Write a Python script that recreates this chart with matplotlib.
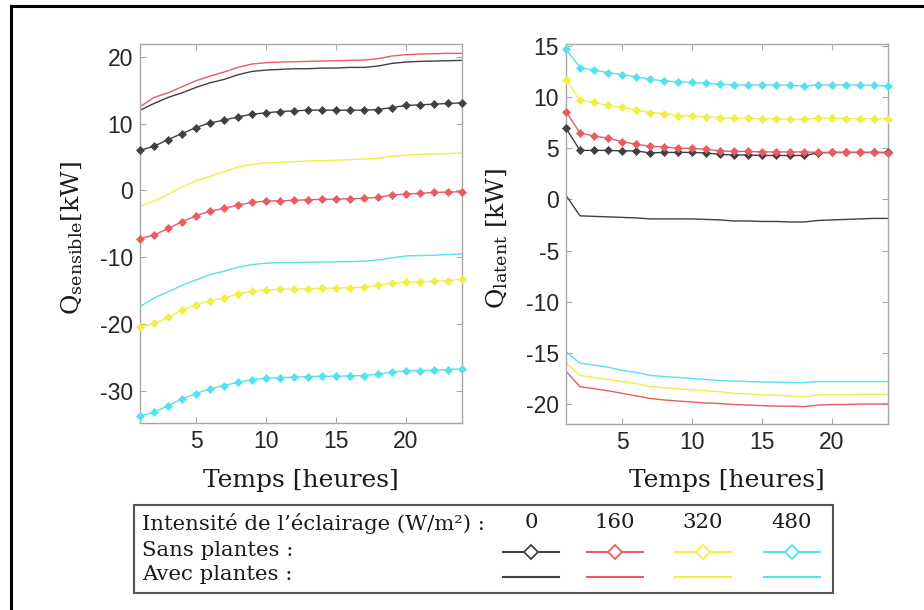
import matplotlib
matplotlib.use("Agg")
import matplotlib.pyplot as plt
from matplotlib.lines import Line2D
from matplotlib.patches import Rectangle

# ---------------- data ----------------
hours = list(range(1, 25))

# Q sensible [kW]
sens_sans_0 = [6.0, 6.6, 7.6, 8.5, 9.4, 10.1, 10.5, 11.0, 11.4, 11.6, 11.8, 11.9, 12.0, 12.0, 12.0, 12.0, 12.0, 12.1, 12.4, 12.7, 12.8, 12.9, 13.0, 13.1]
sens_avec_0 = [12.0, 13.0, 13.9, 14.6, 15.4, 16.1, 16.6, 17.3, 17.8, 18.0, 18.1, 18.2, 18.2, 18.3, 18.3, 18.4, 18.4, 18.6, 19.0, 19.2, 19.3, 19.35, 19.4, 19.45]
sens_sans_160 = [-7.2, -6.7, -5.7, -4.7, -3.8, -3.1, -2.7, -2.2, -1.8, -1.6, -1.55, -1.5, -1.4, -1.35, -1.3, -1.25, -1.2, -1.05, -0.7, -0.55, -0.45, -0.3, -0.25, -0.2]
sens_avec_160 = [12.5, 13.9, 14.6, 15.5, 16.4, 17.1, 17.7, 18.4, 18.9, 19.1, 19.2, 19.25, 19.3, 19.35, 19.4, 19.45, 19.5, 19.7, 20.1, 20.3, 20.4, 20.45, 20.5, 20.5]
sens_sans_320 = [-20.5, -19.9, -19.0, -17.9, -17.1, -16.5, -16.1, -15.5, -15.1, -14.9, -14.8, -14.75, -14.7, -14.65, -14.6, -14.55, -14.5, -14.2, -13.9, -13.7, -13.65, -13.6, -13.5, -13.3]
sens_avec_320 = [-2.4, -1.6, -0.6, 0.55, 1.4, 2.1, 2.8, 3.5, 3.9, 4.1, 4.2, 4.3, 4.4, 4.45, 4.5, 4.6, 4.7, 4.8, 5.1, 5.3, 5.4, 5.45, 5.5, 5.6]
sens_sans_480 = [-33.7, -33.2, -32.2, -31.2, -30.4, -29.7, -29.2, -28.7, -28.3, -28.1, -28.0, -27.95, -27.85, -27.8, -27.8, -27.75, -27.7, -27.5, -27.2, -27.0, -26.95, -26.9, -26.8, -26.7]
sens_avec_480 = [-17.4, -16.1, -15.2, -14.2, -13.4, -12.6, -12.1, -11.5, -11.1, -10.9, -10.8, -10.8, -10.75, -10.7, -10.7, -10.65, -10.6, -10.4, -10.1, -9.8, -9.75, -9.7, -9.6, -9.5]

# Q latent [kW]
lat_sans_0 = [6.95, 4.8, 4.8, 4.8, 4.75, 4.75, 4.55, 4.6, 4.6, 4.6, 4.55, 4.4, 4.35, 4.35, 4.3, 4.3, 4.3, 4.3, 4.55, 4.6, 4.6, 4.6, 4.6, 4.6]
lat_avec_0 = [0.4, -1.6, -1.65, -1.7, -1.75, -1.8, -1.9, -1.9, -1.9, -1.9, -1.95, -2.0, -2.1, -2.1, -2.15, -2.15, -2.2, -2.2, -2.05, -2.0, -1.95, -1.9, -1.85, -1.85]
lat_sans_160 = [8.6, 6.5, 6.2, 6.0, 5.65, 5.4, 5.2, 5.15, 5.0, 5.0, 4.9, 4.75, 4.7, 4.7, 4.65, 4.65, 4.65, 4.65, 4.6, 4.6, 4.6, 4.6, 4.6, 4.55]
lat_avec_160 = [-16.8, -18.3, -18.5, -18.7, -18.95, -19.2, -19.45, -19.6, -19.7, -19.8, -19.9, -19.95, -20.05, -20.1, -20.15, -20.2, -20.2, -20.25, -20.1, -20.05, -20.05, -20.0, -20.0, -20.0]
lat_sans_320 = [11.7, 9.7, 9.5, 9.2, 9.0, 8.75, 8.5, 8.4, 8.2, 8.15, 8.1, 8.0, 7.95, 7.95, 7.9, 7.9, 7.85, 7.85, 7.95, 7.95, 7.9, 7.9, 7.9, 7.9]
lat_avec_320 = [-16.0, -17.2, -17.4, -17.6, -17.8, -18.0, -18.3, -18.4, -18.5, -18.6, -18.7, -18.8, -18.95, -19.0, -19.1, -19.15, -19.2, -19.3, -19.1, -19.1, -19.1, -19.05, -19.05, -19.05]
lat_sans_480 = [14.7, 12.9, 12.65, 12.4, 12.2, 12.0, 11.75, 11.6, 11.5, 11.45, 11.35, 11.3, 11.2, 11.2, 11.2, 11.2, 11.15, 11.1, 11.2, 11.2, 11.2, 11.2, 11.15, 11.1]
lat_avec_480 = [-14.9, -16.0, -16.2, -16.4, -16.7, -16.9, -17.2, -17.3, -17.4, -17.5, -17.6, -17.7, -17.75, -17.8, -17.85, -17.85, -17.9, -17.9, -17.8, -17.8, -17.8, -17.8, -17.8, -17.8]

intensities = ["0", "160", "320", "480"]
colors = ["#404040", "#e85c62", "#f2ee48", "#55e2ec"]

sens_sans = [sens_sans_0, sens_sans_160, sens_sans_320, sens_sans_480]
sens_avec = [sens_avec_0, sens_avec_160, sens_avec_320, sens_avec_480]
lat_sans = [lat_sans_0, lat_sans_160, lat_sans_320, lat_sans_480]
lat_avec = [lat_avec_0, lat_avec_160, lat_avec_320, lat_avec_480]

# ---------------- figure ----------------
W, H = 924, 610
plt.rcParams["axes.unicode_minus"] = False
plt.rcParams["mathtext.fontset"] = "custom"
plt.rcParams["mathtext.rm"] = "DejaVu Serif"
plt.rcParams["mathtext.it"] = "DejaVu Serif:italic"

fig = plt.figure(figsize=(W / 100, H / 100), dpi=100)
fig.patch.set_facecolor("white")

SERIF = "DejaVu Serif"
SANS = "Liberation Sans"
TXT = "#1a1a1a"


def fx(px):
    return px / W


def fy(py):
    return 1 - py / H


def make_axes(x0, x1, y0, y1):
    ax = fig.add_axes([fx(x0), fy(y1), fx(x1) - fx(x0), fy(y0) - fy(y1)])
    for s in ax.spines.values():
        s.set_color("#a8a8a8")
        s.set_linewidth(1.0)
    ax.tick_params(direction="in", length=4, width=0.8, color="#a8a8a8",
                   top=True, right=True, labelsize=16.5, labelcolor="#262626", pad=5)
    ax.set_xlim(1, 24)
    ax.set_xticks([5, 10, 15, 20])
    return ax


def draw(ax, sans, avec):
    for c, ys in zip(colors, avec):
        ax.plot(hours, ys, color=c, lw=1.0, zorder=2)
    for c, ys in zip(colors, sans):
        ax.plot(hours, ys, color=c, lw=1.0, marker="D", markersize=3.9,
                markeredgewidth=0.5, markerfacecolor=c, markeredgecolor=c,
                zorder=3, clip_on=False)


ax1 = make_axes(140, 462, 44, 423)
draw(ax1, sens_sans, sens_avec)
ax1.set_ylim(-34.8, 21.9)
ax1.set_yticks([-30, -20, -10, 0, 10, 20])

ax2 = make_axes(566, 888, 44, 424)
draw(ax2, lat_sans, lat_avec)
ax2.set_ylim(-21.95, 15.2)
ax2.set_yticks([-20, -15, -10, -5, 0, 5, 10, 15])

for ax in (ax1, ax2):
    for lab in ax.get_xticklabels() + ax.get_yticklabels():
        lab.set_family(SANS)

# axis labels
fig.text(fx(301), fy(480), "Temps [heures]", family=SERIF, fontsize=18,
         ha="center", va="center", color=TXT)
fig.text(fx(727), fy(480), "Temps [heures]", family=SERIF, fontsize=18,
         ha="center", va="center", color=TXT)
fig.text(fx(72), fy(238), r"Q$_{\mathrm{sensible}}$[kW]", family=SERIF, fontsize=18,
         rotation=90, ha="center", va="center", color=TXT)
fig.text(fx(497), fy(238), r"Q$_{\mathrm{latent}}$ [kW]", family=SERIF, fontsize=18,
         rotation=90, ha="center", va="center", color=TXT)

# outer frame (left and top edges)
fig.add_artist(Line2D([fx(11), fx(11)], [fy(6), 0], color="black", lw=2.2))
fig.add_artist(Line2D([fx(11), 1], [fy(6), fy(6)], color="black", lw=2.2))

# legend box
fig.add_artist(Rectangle((fx(134), fy(593)), fx(833) - fx(134), fy(505) - fy(593),
                         fill=False, edgecolor="#555555", lw=1.5))
LFS = 15.3
fig.text(fx(142), fy(523), "Intensité de l\u2019éclairage (W/m\u00b2) :", family=SERIF,
         fontsize=LFS, ha="left", va="center", color=TXT)
fig.text(fx(142), fy(550), "Sans plantes :", family=SERIF,
         fontsize=LFS, ha="left", va="center", color=TXT)
fig.text(fx(142), fy(575), "Avec plantes :", family=SERIF,
         fontsize=LFS, ha="left", va="center", color=TXT)

centers = [531, 615, 703, 792]
for cx, c, lab in zip(centers, colors, intensities):
    fig.text(fx(cx), fy(523), lab, family=SERIF, fontsize=LFS,
             ha="center", va="center", color=TXT)
    fig.add_artist(Line2D([fx(cx - 28), fx(cx + 28)], [fy(552), fy(552)],
                          color=c, lw=1.5))
    fig.add_artist(Line2D([fx(cx)], [fy(552)], color=c, marker="D", markersize=7,
                          markerfacecolor="white", markeredgecolor=c, markeredgewidth=1.3,
                          linestyle="none"))
    fig.add_artist(Line2D([fx(cx - 28), fx(cx + 28)], [fy(577), fy(577)],
                          color=c, lw=1.5))

fig.savefig("out.png", dpi=100, facecolor="white")
